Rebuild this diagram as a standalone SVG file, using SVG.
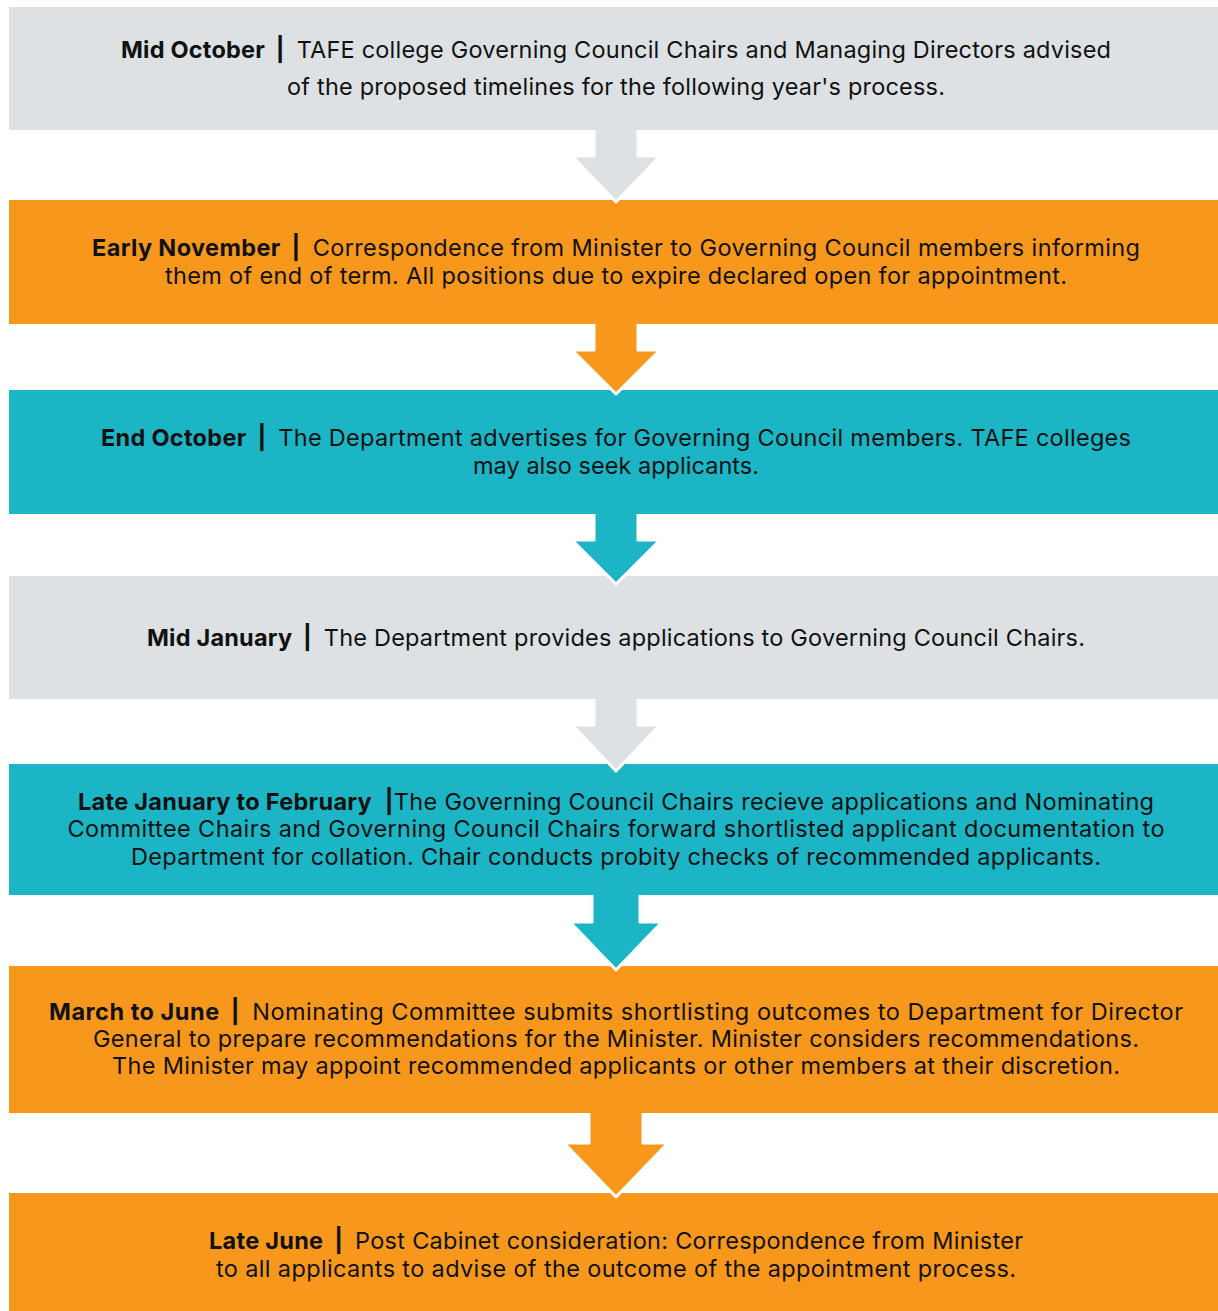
<svg xmlns="http://www.w3.org/2000/svg" width="1218" height="1311" viewBox="0 0 1218 1311">
<style>
.gray{fill:#DDE1E4}
.orange{fill:#F7981D}
.teal{fill:#1CB5C5}
.arrow{stroke:#FFFFFF;stroke-width:3;stroke-linejoin:round}
text{font-family:Inter,"Liberation Sans",sans-serif;font-size:23.5px;fill:#111111;text-anchor:middle}
.b{font-weight:700}
</style>
<rect width="1218" height="1311" fill="#FFFFFF"/>
<g id="node1"><rect class="gray" x="9" y="7" width="1209" height="123"/>
<text x="616" y="58" textLength="990" lengthAdjust="spacing"><tspan class="b">Mid October</tspan><tspan class="b" dx="5"> |</tspan><tspan dx="5"> TAFE college Governing Council Chairs and Managing Directors advised</tspan></text>
<text x="616" y="95" textLength="658" lengthAdjust="spacing">of the proposed timelines for the following year's process.</text></g>
<g id="node2"><rect class="orange" x="9" y="200" width="1209" height="124"/>
<text x="616" y="256" textLength="1048" lengthAdjust="spacing"><tspan class="b">Early November</tspan><tspan class="b" dx="5"> |</tspan><tspan dx="5"> Correspondence from Minister to Governing Council members informing</tspan></text>
<text x="616" y="284" textLength="902" lengthAdjust="spacing">them of end of term. All positions due to expire declared open for appointment.</text></g>
<g id="node3"><rect class="teal" x="9" y="390" width="1209" height="124"/>
<text x="616" y="446" textLength="1030" lengthAdjust="spacing"><tspan class="b">End October</tspan><tspan class="b" dx="5"> |</tspan><tspan dx="5"> The Department advertises for Governing Council members. TAFE colleges</tspan></text>
<text x="616" y="474" textLength="286" lengthAdjust="spacing">may also seek applicants.</text></g>
<g id="node4"><rect class="gray" x="9" y="576" width="1209" height="123"/>
<text x="616" y="646" textLength="938" lengthAdjust="spacing"><tspan class="b">Mid January</tspan><tspan class="b" dx="5"> |</tspan><tspan dx="5"> The Department provides applications to Governing Council Chairs.</tspan></text></g>
<g id="node5"><rect class="teal" x="9" y="764" width="1209" height="131"/>
<text x="616" y="810" textLength="1076" lengthAdjust="spacing"><tspan class="b">Late January to February</tspan><tspan class="b" dx="7"> |</tspan><tspan>The Governing Council Chairs recieve applications and Nominating</tspan></text>
<text x="616" y="837" textLength="1097" lengthAdjust="spacing">Committee Chairs and Governing Council Chairs forward shortlisted applicant documentation to</text>
<text x="616" y="865" textLength="970" lengthAdjust="spacing">Department for collation. Chair conducts probity checks of recommended applicants.</text></g>
<g id="node6"><rect class="orange" x="9" y="966" width="1209" height="147"/>
<text x="616" y="1020" textLength="1134" lengthAdjust="spacing"><tspan class="b">March to June</tspan><tspan class="b" dx="5"> |</tspan><tspan dx="5"> Nominating Committee submits shortlisting outcomes to Department for Director</tspan></text>
<text x="616" y="1047" textLength="1046" lengthAdjust="spacing">General to prepare recommendations for the Minister. Minister considers recommendations.</text>
<text x="616" y="1074" textLength="1008" lengthAdjust="spacing">The Minister may appoint recommended applicants or other members at their discretion.</text></g>
<g id="node7"><rect class="orange" x="9" y="1193" width="1209" height="118"/>
<text x="616" y="1249" textLength="814" lengthAdjust="spacing"><tspan class="b">Late June</tspan><tspan class="b" dx="5"> |</tspan><tspan dx="5"> Post Cabinet consideration: Correspondence from Minister</tspan></text>
<text x="616" y="1277" textLength="800" lengthAdjust="spacing">to all applicants to advise of the outcome of the appointment process.</text></g>
<g id="connectors">
<path class="gray arrow" d="M594,130 V156 H572 L616,202 L660,156 H638 V130"/>
<path class="orange arrow" d="M594,324 V350 H572 L616,394 L660,350 H638 V324"/>
<path class="teal arrow" d="M594,514 V540 H572 L616,584 L660,540 H638 V514"/>
<path class="gray arrow" d="M594,699 V725 H572 L616,771 L660,725 H638 V699"/>
<path class="teal arrow" d="M592,895 V922 H570 L616,970 L662,922 H640 V895"/>
<path class="orange arrow" d="M589,1113 V1143 H564 L616,1197 L668,1143 H643 V1113"/>
</g>
</svg>
